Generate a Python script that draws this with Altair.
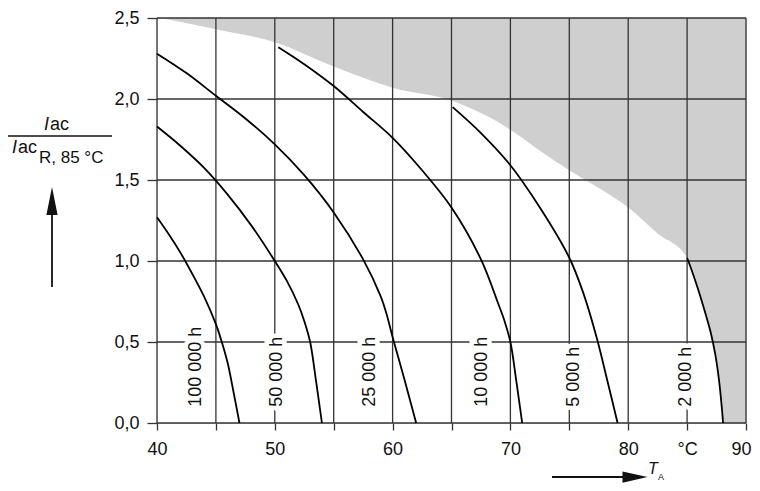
import altair as alt
import pandas as pd

# ---- data ----
curve_names = ["100 000 h", "50 000 h", "25 000 h", "10 000 h", "5 000 h", "2 000 h"]

x_100000 = [40.0, 41.0, 42.0, 43.0, 44.0, 45.0, 45.5, 46.0, 46.5, 47.0]
y_100000 = [1.27, 1.165, 1.05, 0.92, 0.78, 0.61, 0.50, 0.37, 0.19, 0.0]

x_50000 = [40.0, 42.0, 44.0, 46.0, 48.0, 50.0, 51.0, 52.0, 52.5, 53.0, 53.5, 54.0]
y_50000 = [1.83, 1.71, 1.575, 1.41, 1.22, 1.00, 0.88, 0.73, 0.63, 0.50, 0.26, 0.0]

x_25000 = [40.0, 42.5, 45.0, 47.5, 50.0, 52.5, 55.0, 57.5, 59.0, 59.5, 60.0, 61.0, 62.0]
y_25000 = [2.28, 2.16, 2.02, 1.88, 1.72, 1.53, 1.30, 1.01, 0.78, 0.67, 0.53, 0.27, 0.0]

x_10000 = [50.3, 52.5, 55.0, 57.5, 60.0, 62.5, 65.0, 67.5, 69.0, 69.5, 70.0, 70.5, 71.0]
y_10000 = [2.32, 2.215, 2.08, 1.92, 1.76, 1.56, 1.33, 1.01, 0.73, 0.63, 0.50, 0.26, 0.0]

x_5000 = [65.1, 67.5, 69.9, 72.5, 75.0, 76.2, 77.35, 78.2, 79.1]
y_5000 = [1.95, 1.79, 1.60, 1.33, 1.02, 0.80, 0.52, 0.27, 0.0]

x_2000 = [85.0, 85.5, 86.0, 86.5, 87.0, 87.4, 87.7, 88.0, 88.05]
y_2000 = [1.02, 0.92, 0.81, 0.69, 0.56, 0.42, 0.27, 0.05, 0.0]

# shaded (forbidden) region: lower boundary, upper edge = 2.5
shade_x = [40.3, 45, 50, 55, 60, 65, 70, 72.5, 75, 77.5, 80, 82.5, 85,
           85.5, 86.0, 86.5, 87.0, 87.4, 87.7, 88.0, 88.05, 90]
shade_y = [2.5, 2.43, 2.35, 2.2, 2.07, 1.99, 1.81, 1.68, 1.56, 1.45, 1.33, 1.17, 1.02,
           0.92, 0.81, 0.69, 0.56, 0.42, 0.27, 0.05, 0.0, 0.0]
shade_top = 2.5

# curve label positions (bottom end of rotated text)
label_x = [43.3, 50.2, 58.1, 67.6, 75.4, 84.9]
label_y = [0.10, 0.10, 0.10, 0.10, 0.10, 0.10]

x_grid = [40, 45, 50, 55, 60, 65, 70, 75, 80, 85, 90]
y_grid = [0.0, 0.5, 1.0, 1.5, 2.0, 2.5]

# ---- tables ----
curves_x = [x_100000, x_50000, x_25000, x_10000, x_5000, x_2000]
curves_y = [y_100000, y_50000, y_25000, y_10000, y_5000, y_2000]
rows = []
for name, xs_, ys_ in zip(curve_names, curves_x, curves_y):
    for i, (a, b) in enumerate(zip(xs_, ys_)):
        rows.append({"curve": name, "x": a, "y": b, "order": i})
curves_df = pd.DataFrame(rows)
shade_df = pd.DataFrame({"x": shade_x, "y": shade_y, "top": [shade_top] * len(shade_x)})
labels_df = pd.DataFrame({"x": label_x, "y": label_y, "text": curve_names})
xgrid_df = pd.DataFrame({"x": x_grid})
ygrid_df = pd.DataFrame({"y": y_grid})
one = pd.DataFrame({"k": [0]})

FONT = "Liberation Sans"
GRID = "#333333"
xs = alt.Scale(domain=[40, 90], nice=False, zero=False)
ys = alt.Scale(domain=[0, 2.5], nice=False, zero=False)

x_axis = alt.Axis(
    values=x_grid, title=None, grid=False, domain=False,
    tickSize=7, tickColor=GRID, tickWidth=1.3, labelFlush=False,
    labelOffset={"condition": {"test": "datum.value == 90", "value": -5}, "value": 0},
    labelExpr="datum.value == 85 ? '°C' : (datum.value % 10 == 0 ? datum.label : '')",
    labelFont=FONT, labelFontSize=18, labelColor="#111", labelPadding=10,
)
y_axis = alt.Axis(
    values=y_grid, title=None, grid=False, domain=False,
    tickSize=10, tickColor=GRID, tickWidth=1.3, labelFlush=False,
    labelExpr="replace(format(datum.value, '.1f'), '.', ',')",
    labelFont=FONT, labelFontSize=18, labelColor="#111", labelPadding=8,
)
X = alt.X("x:Q", scale=xs, axis=x_axis)
Y = alt.Y("y:Q", scale=ys, axis=y_axis)

shade = alt.Chart(shade_df).mark_area(color="#cfcfcf", interpolate="monotone").encode(
    x=X, y=Y, y2="top:Q",
)

vgrid = alt.Chart(xgrid_df).mark_rule(color=GRID, strokeWidth=1.3).encode(x=X)
hgrid = alt.Chart(ygrid_df).mark_rule(color=GRID, strokeWidth=1.3).encode(y=Y)

halo = alt.Chart(labels_df).mark_text(
    angle=270, align="left", baseline="middle", font=FONT, fontSize=18,
    fill="white", stroke="white", strokeWidth=9,
).encode(x=X, y=Y, text="text:N")

lines = alt.Chart(curves_df).mark_line(
    color="black", strokeWidth=1.8, interpolate="catmull-rom"
).encode(x=X, y=Y, detail="curve:N", order="order:Q")

labels = alt.Chart(labels_df).mark_text(
    angle=270, align="left", baseline="middle", font=FONT, fontSize=18, color="#111",
).encode(x=X, y=Y, text="text:N")


def txt(t, x, y, size=18, style="normal", align="left"):
    return alt.Chart(one).mark_text(
        text=t, font=FONT, fontSize=size, fontStyle=style, align=align,
        baseline="middle", color="#111",
    ).encode(x=alt.value(x), y=alt.value(y))


# y-axis title: Iac / Iac R, 85 °C with arrow
num_I = txt("I", -113, 107, style="italic")
num_ac = txt("ac", -107, 107)
frac = alt.Chart(one).mark_rule(color="#111", strokeWidth=1.5).encode(
    x=alt.value(-149), x2=alt.value(-45), y=alt.value(118)
)
den_I = txt("I", -145, 130, style="italic")
den_ac = txt("ac", -139, 130)
den_sub = txt("R, 85 °C", -118, 140, size=17)
yarrow_shaft = alt.Chart(one).mark_rule(color="#111", strokeWidth=1.8).encode(
    x=alt.value(-105), y=alt.value(192), y2=alt.value(269)
)
yarrow_head = alt.Chart(one).mark_point(
    shape="M -0.4 1 L 0 -1 L 0.4 1 Z", filled=True, size=784, color="#111", opacity=1
).encode(x=alt.value(-105), y=alt.value(183))

# x-axis title: arrow T_A
xarrow_shaft = alt.Chart(one).mark_rule(color="#111", strokeWidth=1.8).encode(
    x=alt.value(395), x2=alt.value(472), y=alt.value(459)
)
xarrow_head = alt.Chart(one).mark_point(
    shape="M -1 -0.45 L 1 0 L -1 0.45 Z", filled=True, size=625, color="#111", opacity=1
).encode(x=alt.value(478), y=alt.value(459))
t_T = txt("T", 491, 451, size=16, style="italic")
t_A = txt("A", 501, 459, size=9)

chart = alt.layer(
    shade, vgrid, hgrid, halo, lines, labels,
    num_I, num_ac, frac, den_I, den_ac, den_sub, yarrow_shaft, yarrow_head,
    xarrow_shaft, xarrow_head, t_T, t_A,
).properties(
    width=589, height=405,
    padding={"left": 149, "top": 10, "right": 6, "bottom": 60},
    autosize=alt.AutoSizeParams(type="none"),
).configure_view(stroke=None).configure(background="white")

chart.save("out.html", embed_options={"renderer": "svg", "actions": False})
